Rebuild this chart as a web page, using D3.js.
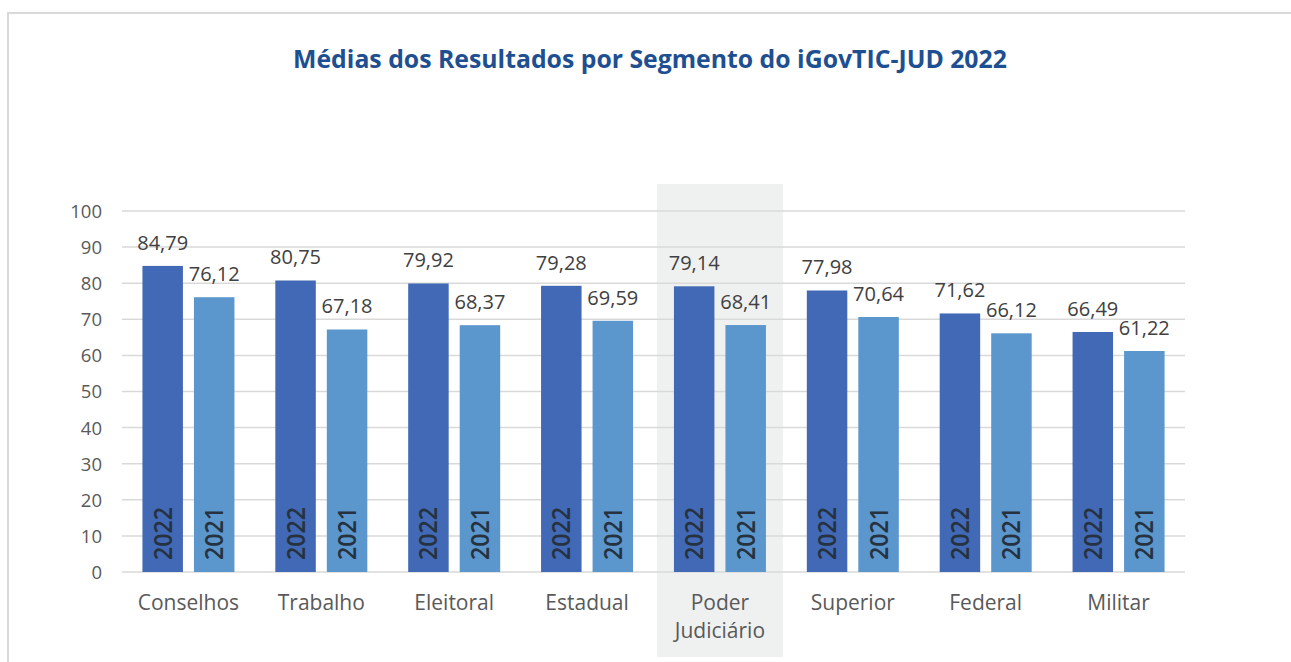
<!DOCTYPE html>
<html><head><meta charset="utf-8">
<script src="https://cdn.jsdelivr.net/npm/d3@7"></script>
<style>html,body{margin:0;padding:0;background:#fff;}svg{display:block;}</style>
</head><body>
<svg id="chart" width="1291" height="662"></svg>
<script>
const title = "Médias dos Resultados por Segmento do iGovTIC-JUD 2022";
const categories = ["Conselhos","Trabalho","Eleitoral","Estadual","Poder Judiciário","Superior","Federal","Militar"];
const categoryLines = [["Conselhos"],["Trabalho"],["Eleitoral"],["Estadual"],["Poder","Judiciário"],["Superior"],["Federal"],["Militar"]];
const series = ["2022","2021"];
const values2022 = [84.79,80.75,79.92,79.28,79.14,77.98,71.62,66.49];
const values2021 = [76.12,67.18,68.37,69.59,68.41,70.64,66.12,61.22];
const yTicks = [0,10,20,30,40,50,60,70,80,90,100];
const highlighted = "Poder Judiciário";

const svg = d3.select("#chart");
const colors = {"2022":"#4169b5","2021":"#5b97cd"};
const font = "'Open Sans', 'Noto Sans', sans-serif";

// border
svg.append("rect").attr("x",8).attr("y",13).attr("width",1300).attr("height",700)
  .attr("fill","none").attr("stroke","#d9d9d9").attr("stroke-width",2);

const x0 = d3.scaleBand().domain(categories).range([122,1185]).padding(0);
const x1 = d3.scaleBand().domain(series).range([-46,46]).paddingInner(0.214);
const y = d3.scaleLinear().domain([0,100]).range([572,211]);

// highlight band
svg.append("rect")
  .attr("x", x0(highlighted)+3.5).attr("width", x0.bandwidth()-7)
  .attr("y",184).attr("height",473).attr("fill","#eff1f1");

// title
svg.append("text").attr("x",650).attr("y",68).attr("text-anchor","middle")
  .attr("font-family",font).attr("font-weight",700).attr("font-size",24.8)
  .attr("fill","#1e4f91").text(title);

// grid
svg.append("g").selectAll("line").data(yTicks).join("line")
  .attr("x1",122).attr("x2",1185).attr("y1",d=>y(d)).attr("y2",d=>y(d))
  .attr("stroke","#d9d9d9").attr("stroke-width",1.5);

// y axis labels
const yAxis = d3.axisLeft(y).tickValues(yTicks).tickSize(0).tickPadding(0).tickFormat(d3.format("d"));
const ya = svg.append("g").attr("transform","translate(102,0)").call(yAxis);
ya.select(".domain").remove();
ya.selectAll("text").attr("font-family",font).attr("font-size",18.5).attr("fill","#595959").attr("dy","0.35em");

// bars
const data = categories.map((c,i)=>({cat:c, vals:[{s:"2022",v:values2022[i]},{s:"2021",v:values2021[i]}]}));
const g = svg.append("g").selectAll("g").data(data).join("g")
  .attr("transform",d=>`translate(${x0(d.cat)+x0.bandwidth()/2},0)`);
g.selectAll("rect").data(d=>d.vals).join("rect")
  .attr("x",d=>x1(d.s)).attr("width",x1.bandwidth())
  .attr("y",d=>y(d.v)).attr("height",d=>y(0)-y(d.v)).attr("fill",d=>colors[d.s]);
g.selectAll("text.val").data(d=>d.vals).join("text").attr("class","val")
  .attr("x",d=>x1(d.s)+x1.bandwidth()/2).attr("y",d=>y(d.v)-16)
  .attr("text-anchor","middle").attr("font-family",font).attr("font-size",20)
  .attr("fill","#404040").text(d=>d.v.toFixed(2).replace(".",","));
g.selectAll("text.yr").data(d=>d.vals).join("text").attr("class","yr")
  .attr("transform",d=>`translate(${x1(d.s)+x1.bandwidth()/2},${y(0)-12}) rotate(-90)`)
  .attr("dy","0.36em").attr("text-anchor","start")
  .attr("font-family",font).attr("font-size",25).attr("font-weight",600)
  .attr("textLength",53).attr("lengthAdjust","spacingAndGlyphs")
  .attr("fill","#26323f").text(d=>d.s);

// category labels
const cl = svg.append("g").selectAll("text").data(categories).join("text")
  .attr("x",d=>x0(d)+x0.bandwidth()/2).attr("y",610).attr("text-anchor","middle")
  .attr("font-family",font).attr("font-size",21).attr("fill","#595959");
cl.each(function(d,i){
  const t=d3.select(this);
  categoryLines[i].forEach((ln,j)=>t.append("tspan").attr("x",x0(d)+x0.bandwidth()/2).attr("dy",j?28:0).text(ln));
});
</script>
</body></html>
